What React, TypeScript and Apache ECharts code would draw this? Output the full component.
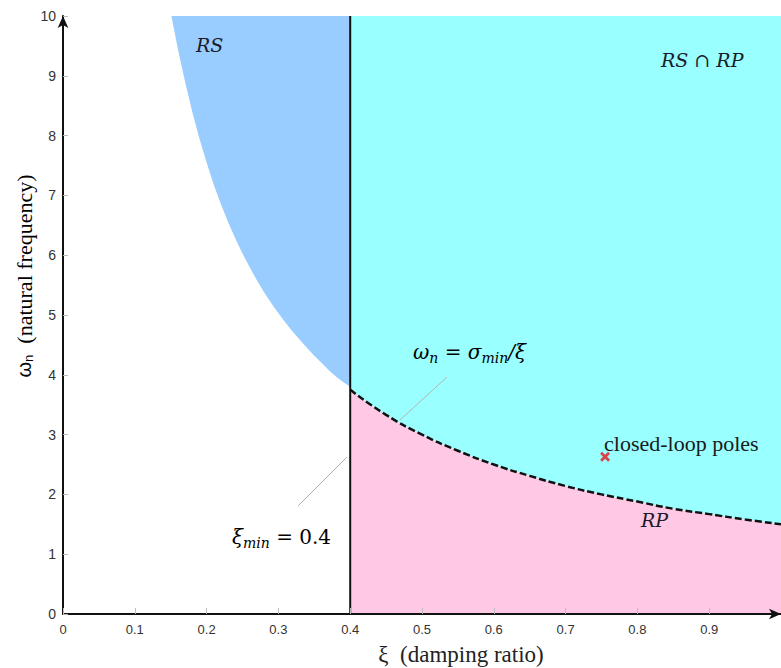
import React, { useEffect, useRef } from "react";
import * as echarts from "echarts";

// Robust-stability boundary (left edge of RS region)
const rsXi = [0.151, 0.16, 0.17, 0.18, 0.19, 0.2, 0.21, 0.22, 0.23, 0.24, 0.25, 0.26, 0.27, 0.28, 0.29, 0.3, 0.31, 0.32, 0.33, 0.34, 0.35, 0.36, 0.37, 0.38, 0.39, 0.4];
const rsOmega = [10.0, 9.45, 8.9, 8.4, 7.95, 7.55, 7.18, 6.85, 6.55, 6.28, 6.03, 5.8, 5.58, 5.38, 5.2, 5.03, 4.87, 4.72, 4.58, 4.45, 4.32, 4.2, 4.08, 3.97, 3.88, 3.8];

// Robust-performance boundary  omega_n = sigma_min / xi (dashed)
const rpXi = [0.4, 0.45, 0.5, 0.55, 0.6, 0.65, 0.7, 0.75, 0.8, 0.85, 0.9, 0.95, 1.0];
const rpOmega = [3.75, 3.33, 3.0, 2.73, 2.5, 2.31, 2.14, 2.0, 1.88, 1.76, 1.67, 1.58, 1.5];

const xiMin = 0.4;
const omegaRange = [0, 10];
const xiRange = [0, 1];
const poleXi = [0.755];
const poleOmega = [2.63];

const COLOR_RS = "#99CCFF";
const COLOR_CYAN = "#99FFFF";
const COLOR_PINK = "#FFC9E5";
const MATH = "#1b1b2b";

export default function App() {
  const ref = useRef<HTMLDivElement>(null);
  useEffect(() => {
    document.body.style.margin = "0";
    const chart = echarts.init(ref.current!, undefined, { renderer: "svg" });
    const rsData = rsXi.map((x, i) => [x, rsOmega[i]]);
    const rpData = rpXi.map((x, i) => [x, rpOmega[i]]);
    const it = { fontFamily: "DejaVu Serif", fontStyle: "italic", fontSize: 20, color: MATH };
    const sub = { fontFamily: "DejaVu Serif", fontStyle: "italic", fontSize: 14, color: MATH, padding: [12, 0, 0, 0] };
    const up = { fontFamily: "DejaVu Serif", fontSize: 20, color: MATH };
    chart.setOption({
      animation: false,
      backgroundColor: "#ffffff",
      grid: { left: 63, top: 16, width: 722, height: 598, containLabel: false },
      xAxis: {
        type: "value",
        min: xiRange[0],
        max: xiRange[1],
        interval: 0.1,
        z: 10,
        splitLine: { show: false },
        axisLine: { show: true, lineStyle: { color: "#111", width: 2 }, symbol: ["none", "arrow"], symbolSize: [8, 12] },
        axisTick: { show: true, inside: true, length: 6, lineStyle: { color: "#bbb" } },
        axisLabel: { showMaxLabel: false, margin: 9, fontFamily: "Liberation Sans", fontSize: 13, color: "#333" },
      },
      yAxis: {
        type: "value",
        min: omegaRange[0],
        max: omegaRange[1],
        interval: 1,
        z: 10,
        splitLine: { show: false },
        axisLine: { show: true, lineStyle: { color: "#111", width: 2 }, symbol: ["none", "arrow"], symbolSize: [8, 12] },
        axisTick: { show: true, inside: true, length: 5, lineStyle: { color: "#bbb" } },
        axisLabel: { margin: 7, fontFamily: "Liberation Sans", fontSize: 14, color: "#333" },
      },
      series: [
        {
          type: "line",
          data: rsData,
          symbol: "none",
          lineStyle: { width: 0 },
          areaStyle: { origin: "end", color: COLOR_RS, opacity: 1 },
          z: 1,
        },
        {
          type: "line",
          data: rpData,
          symbol: "none",
          smooth: true,
          lineStyle: { width: 0 },
          areaStyle: { origin: "end", color: COLOR_CYAN, opacity: 1 },
          z: 1,
        },
        {
          type: "line",
          data: rpData,
          symbol: "none",
          smooth: true,
          lineStyle: { width: 2.5, color: "#111", type: [7, 3] },
          areaStyle: { origin: "start", color: COLOR_PINK, opacity: 1 },
          z: 3,
        },
        {
          type: "line",
          data: [[xiMin, omegaRange[0]], [xiMin, omegaRange[1]]],
          symbol: "none",
          lineStyle: { width: 2, color: "#111" },
          z: 4,
        },
        {
          type: "scatter",
          data: poleXi.map((x, i) => [x, poleOmega[i]]),
          symbol: "path://M0,2L2,0L5,3L8,0L10,2L7,5L10,8L8,10L5,7L2,10L0,8L3,5Z",
          symbolSize: 10,
          itemStyle: { color: "#e8141a" },
          z: 5,
        },
      ],
      graphic: [
        // leader lines
        { type: "line", shape: { x1: 298, y1: 506, x2: 347, y2: 457 }, style: { stroke: "#b5b5b5", lineWidth: 1 }, z: 20 },
        { type: "line", shape: { x1: 400, y1: 420, x2: 447, y2: 377 }, style: { stroke: "#b5b5b5", lineWidth: 1 }, z: 20 },
        {
          type: "text", x: 196, y: 45, z: 20,
          style: { text: "RS", font: "italic 19px 'DejaVu Serif'", fill: MATH, verticalAlign: "middle" },
        },
        {
          type: "text", x: 661, y: 60, z: 20,
          style: { text: "RS \u2229 RP", font: "italic 19px 'DejaVu Serif'", fill: MATH, verticalAlign: "middle" },
        },
        {
          type: "text", x: 641, y: 520, z: 20,
          style: { text: "RP", font: "italic 19px 'DejaVu Serif'", fill: MATH, verticalAlign: "middle" },
        },
        {
          type: "text", x: 604, y: 443, z: 20,
          style: { text: "closed-loop poles", font: "22px 'Liberation Serif'", fill: "#1a1a1a", verticalAlign: "middle" },
        },
        {
          type: "text", x: 413, y: 352, z: 20,
          style: {
            text: "{i|\u03c9}{s|n}{u| = }{i|\u03c3}{s|min}{i|/\u03be}",
            rich: { i: it, s: sub, u: up },
            verticalAlign: "middle",
          },
        },
        {
          type: "text", x: 232, y: 537, z: 20,
          style: {
            text: "{i|\u03be}{s|min}{u| = 0.4}",
            rich: { i: it, s: sub, u: up },
            verticalAlign: "middle",
          },
        },
        // axis titles
        {
          type: "text", x: 461, y: 654, z: 20,
          style: {
            text: "\u03be  (damping ratio)",
            font: "23px 'Liberation Serif'",
            fill: "#222",
            align: "center",
            verticalAlign: "middle",
          },
        },
        {
          type: "text", x: 24, y: 276, rotation: Math.PI / 2, z: 20,
          style: {
            text: "{w|\u03c9}{n|n}{t|  (natural frequency)}",
            rich: {
              w: { fontFamily: "Liberation Sans", fontSize: 20, color: "#222" },
              n: { fontFamily: "Liberation Sans", fontSize: 13, color: "#222", padding: [8, 0, 0, 0] },
              t: { fontFamily: "Liberation Serif", fontSize: 22, color: "#222" },
            },
            align: "center",
            verticalAlign: "middle",
          },
        },
      ],
    });
    return () => chart.dispose();
  }, []);
  return <div ref={ref} style={{ width: 781, height: 668 }} />;
}
